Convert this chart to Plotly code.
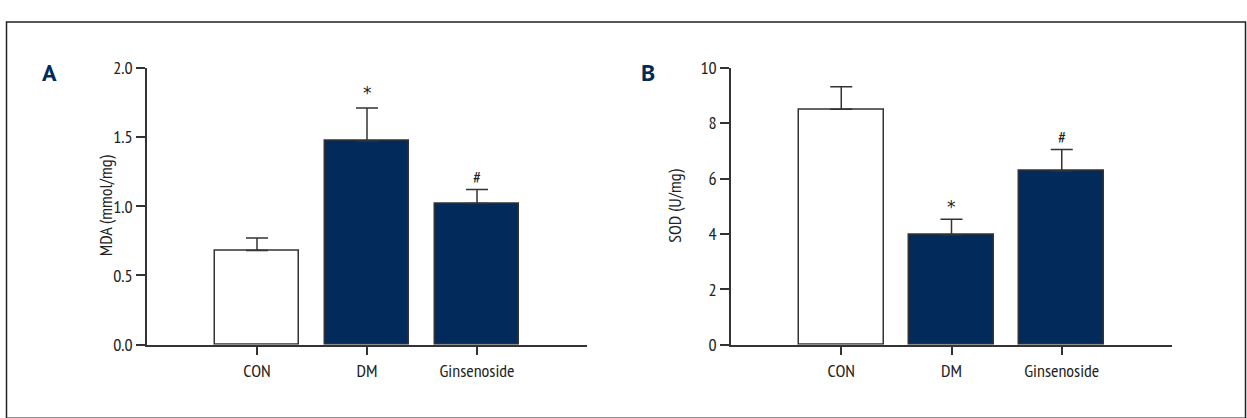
import plotly.graph_objects as go

categories = ["CON", "DM", "Ginsenoside"]
mda_values = [0.68, 1.47, 1.02]
mda_errors = [0.09, 0.24, 0.10]
sod_values = [8.5, 3.96, 6.27]
sod_errors = [0.81, 0.57, 0.78]
mda_marks = ["", "*", "#"]
sod_marks = ["", "*", "#"]
bar_colors = ["#ffffff", "#022a5a", "#022a5a"]

W, H = 1247, 418
FONT = "PT Sans Narrow, Fira Sans Condensed, Liberation Sans, sans-serif"
STAR_FONT = "DejaVu Sans, Liberation Sans, sans-serif"
LINE = "#333333"
TXT = "#222222"

def px_x(p):
    return p / W

def px_y(p):
    return (H - p) / H

fig = go.Figure()

panels = [
    ("x", "y", mda_values, mda_errors, mda_marks, 15),
    ("x2", "y2", sod_values, sod_errors, sod_marks, 12),
]
for xa, ya, vals, errs, marks, star_shift in panels:
    fig.add_trace(go.Bar(
        x=list(range(len(categories))), y=vals,
        xaxis=xa, yaxis=ya,
        width=0.77,
        marker=dict(color=bar_colors, line=dict(color=LINE, width=1.5)),
        error_y=dict(type="data", array=errs, arrayminus=[0] * len(errs),
                     symmetric=False, color=LINE, thickness=1.5, width=11),
        showlegend=False, hoverinfo="skip",
    ))
    for i, (v, e, m) in enumerate(zip(vals, errs, marks)):
        if m == "#":
            fig.add_annotation(
                x=i, y=v + e, xref=xa, yref=ya, text=m, showarrow=False,
                yanchor="middle", yshift=12,
                font=dict(family=FONT, size=18, color=TXT),
            )
        elif m:
            fig.add_annotation(
                x=i, y=v + e, xref=xa, yref=ya, text=m, showarrow=False,
                yanchor="middle", yshift=star_shift,
                font=dict(family=STAR_FONT, size=17, color=TXT),
            )

axis_common = dict(
    showgrid=False, zeroline=False, showline=True, linecolor=LINE, linewidth=1.5,
    ticks="outside", tickcolor=LINE, tickwidth=1.5, ticklen=9,
    tickfont=dict(family=FONT, size=18, color=TXT),
)

fig.update_layout(
    width=W, height=H,
    margin=dict(l=0, r=0, t=0, b=0),
    paper_bgcolor="white", plot_bgcolor="white",
    bargap=0,
    xaxis=dict(domain=[px_x(147), px_x(587)], range=[-1, 3], anchor="y",
               tickvals=[0, 1, 2], ticktext=categories, **axis_common),
    yaxis=dict(domain=[px_y(352), px_y(59)], range=[0, 2.0], anchor="x",
               tickvals=[0, 0.5, 1.0, 1.5, 2.0], tickformat=".1f", **axis_common),
    xaxis2=dict(domain=[px_x(731), px_x(1172)], range=[-1, 3], anchor="y2",
                tickvals=[0, 1, 2], ticktext=categories, **axis_common),
    yaxis2=dict(domain=[px_y(352), px_y(59)], range=[0, 10], anchor="x2",
                tickvals=[0, 2, 4, 6, 8, 10], **axis_common),
)

fig.add_annotation(x=px_x(92), y=px_y(205), xref="paper", yref="paper",
                   text="MDA (mmol/mg)", textangle=-90, showarrow=False,
                   font=dict(family=FONT, size=18, color=TXT))
fig.add_annotation(x=px_x(675), y=px_y(205), xref="paper", yref="paper",
                   text="SOD (U/mg)", textangle=-90, showarrow=False,
                   font=dict(family=FONT, size=18, color=TXT))

for letter, xp in [("A", 40), ("B", 648)]:
    fig.add_annotation(x=px_x(xp), y=px_y(45), xref="paper", yref="paper",
                       text="<b>%s</b>" % letter, showarrow=False,
                       font=dict(family="PT Sans, Fira Sans, sans-serif", size=24, color="#022a5a"))

fig.add_shape(type="rect", xref="paper", yref="paper",
              x0=px_x(6.5), x1=px_x(1245.5), y0=px_y(430), y1=px_y(10.5),
              line=dict(color="#222222", width=1.5), fillcolor="rgba(0,0,0,0)")

fig.write_html("out.html", config={"displayModeBar": False},
               post_script="document.body.style.margin='0';document.body.style.overflow='hidden';")
